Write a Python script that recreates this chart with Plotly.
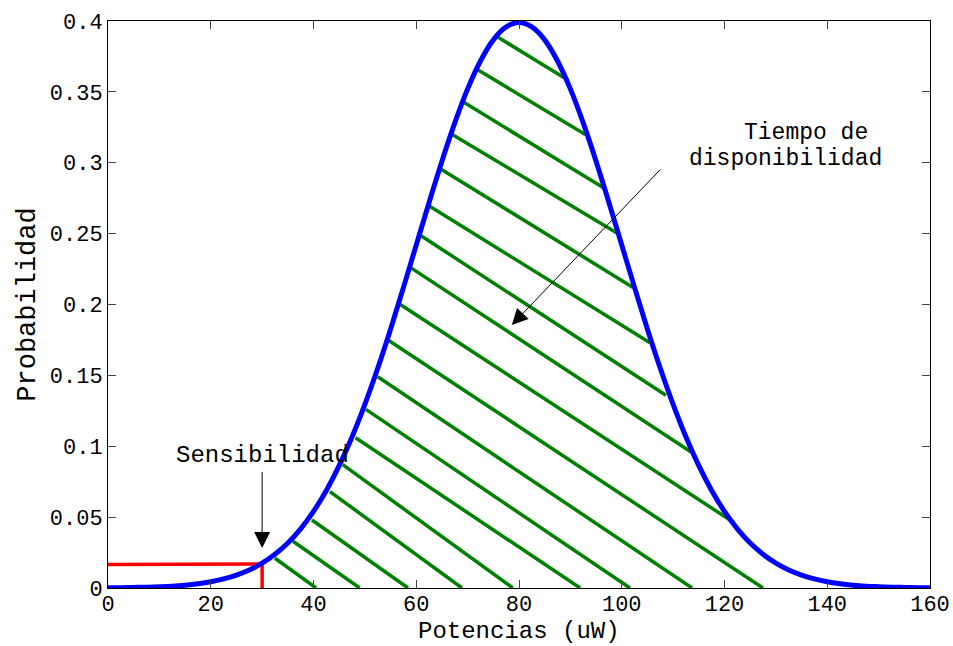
import plotly.graph_objects as go

# Curve (x in uW, probability)
pot_x = [i * 2.5 for i in range(65)]
prob_left = [0.0001, 0.0002, 0.0004, 0.0006, 0.0009, 0.0013, 0.0020, 0.0030,
             0.0044, 0.0064, 0.0091, 0.0127, 0.0175, 0.0238, 0.0317, 0.0417,
             0.0540, 0.0688, 0.0863, 0.1065, 0.1295, 0.1550, 0.1826, 0.2119,
             0.2420, 0.2720, 0.3011, 0.3281, 0.3521, 0.3718, 0.3867, 0.3958]
prob_peak = [0.3989]
prob_y = prob_left + prob_peak + prob_left[::-1]

# Sensitivity marker (red)
sens_x = [0, 30, 30]
sens_y = [0.0165, 0.0170, -0.002]

# Hatch segments (start on left flank, end on right flank or on the axis)
hatch_x0 = [75.7, 71.8, 69.1, 67.0, 64.6, 62.3, 60.7, 58.9, 56.9, 54.5,
            52.5, 50.2, 48.2, 45.7, 43.2, 39.7, 36.0, 32.5]
hatch_y0 = [0.389, 0.366, 0.343, 0.320, 0.296, 0.270, 0.249, 0.226, 0.200, 0.175,
            0.149, 0.126, 0.106, 0.087, 0.068, 0.048, 0.033, 0.021]
hatch_x1 = [88.8, 92.9, 96.6, 99.3, 102.2, 105.5, 108.6, 113.5, 121.9, 127.5,
            113.7, 101.6, 91.9, 78.8, 68.9, 58.4, 49.0, 40.5]
hatch_y1 = [0.360, 0.320, 0.282, 0.250, 0.212, 0.173, 0.136, 0.096, 0.046, 0.0,
            0.0, 0.0, 0.0, 0.0, 0.0, 0.0, 0.0, 0.0]

x_ticks = [0, 20, 40, 60, 80, 100, 120, 140, 160]
y_ticks = [0, 0.05, 0.1, 0.15, 0.2, 0.25, 0.3, 0.35, 0.4]
y_tick_text = ["0", "0.05", "0.1", "0.15", "0.2", "0.25", "0.3", "0.35", "0.4"]

FONT = "Liberation Mono"

fig = go.Figure()

hx, hy = [], []
for a, b, c, d in zip(hatch_x0, hatch_y0, hatch_x1, hatch_y1):
    hx += [a, c, None]
    hy += [b, d, None]
fig.add_trace(go.Scatter(x=hx, y=hy, mode="lines",
                         line=dict(color="#008000", width=3.5),
                         hoverinfo="skip", showlegend=False))

fig.add_trace(go.Scatter(x=sens_x, y=sens_y, mode="lines", cliponaxis=False,
                         line=dict(color="#ff0000", width=3.5),
                         showlegend=False))

fig.add_trace(go.Scatter(x=pot_x, y=prob_y, mode="lines",
                         line=dict(color="#0000ff", width=5, shape="spline"),
                         showlegend=False))

# Annotations
fig.add_annotation(x=30, y=0.0282, ax=30, ay=0.083, axref="x", ayref="y",
                   text="", showarrow=True, arrowhead=2, arrowsize=3.2,
                   arrowwidth=1, arrowcolor="black")
fig.add_annotation(x=30, y=0.0935, text="Sensibilidad", showarrow=False,
                   font=dict(family=FONT, size=24, color="black"))
fig.add_annotation(x=78.6, y=0.1855, ax=107.8, ay=0.2963, axref="x", ayref="y",
                   text="", showarrow=True, arrowhead=2, arrowsize=3.2,
                   arrowwidth=1, arrowcolor="black")
fig.add_annotation(x=135.9, y=0.3210, text="Tiempo de", showarrow=False,
                   font=dict(family=FONT, size=23, color="black"))
fig.add_annotation(x=131.9, y=0.3030, text="disponibilidad", showarrow=False,
                   font=dict(family=FONT, size=23, color="black"))
# x-axis title
fig.add_annotation(x=0.5, y=-0.0767, xref="paper", yref="paper", yanchor="middle",
                   borderpad=0, text="Potencias (uW)", showarrow=False,
                   font=dict(family=FONT, size=24, color="black"))

axis_common = dict(showline=True, linecolor="black", linewidth=1, mirror="ticks",
                   ticks="inside", ticklen=8, tickcolor="#444", tickwidth=1,
                   showgrid=False, zeroline=False, automargin=False,
                   tickfont=dict(family=FONT, size=22, color="black"))

fig.update_xaxes(range=[0, 160], tickvals=x_ticks, ticklabelstandoff=-4, **axis_common)
fig.update_yaxes(range=[0, 0.4], tickvals=y_ticks, ticktext=y_tick_text, **axis_common,
                 title=dict(text="Probabilidad", standoff=6,
                            font=dict(family=FONT, size=27, color="black")))

fig.update_layout(width=953, height=646, plot_bgcolor="white", paper_bgcolor="white",
                  margin=dict(l=108, r=23, t=21, b=58), showlegend=False)

fig.write_html("out.html")
